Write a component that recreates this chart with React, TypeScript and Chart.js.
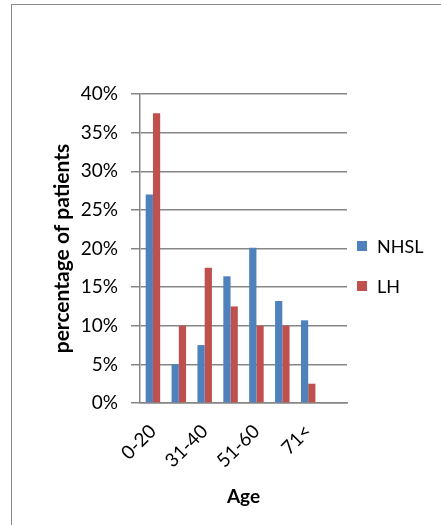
import React, { useEffect, useRef } from 'react';
import { Chart, registerables } from 'chart.js';

Chart.register(...registerables);

const categories = ['0-20', '21-30', '31-40', '41-50', '51-60', '61-70', '71<', ''];
const nhslValues = [27, 5, 7.5, 16.4, 20.1, 13.2, 10.7, null];
const lhValues = [37.5, 10, 17.5, 12.5, 10, 10, 2.5, null];
const seriesNames = ['NHSL', 'LH'];
const seriesColors = ['#4F81BD', '#C0504D'];
const yMax = 40;
const yStep = 5;
const yTitle = 'percentage of patients';
const xTitle = 'Age';

const FONT = 'Lato, "Open Sans", sans-serif';
const GRID = '#868686';

export default function App() {
  const canvasRef = useRef<HTMLCanvasElement | null>(null);

  useEffect(() => {
    const canvas = canvasRef.current;
    if (!canvas) return;
    const chart = new Chart(canvas, {
      type: 'bar',
      data: {
        labels: categories,
        datasets: [
          {
            label: seriesNames[0],
            data: nhslValues,
            backgroundColor: seriesColors[0],
            categoryPercentage: 0.56,
            barPercentage: 1,
          },
          {
            label: seriesNames[1],
            data: lhValues,
            backgroundColor: seriesColors[1],
            categoryPercentage: 0.56,
            barPercentage: 1,
          },
        ],
      },
      options: {
        responsive: false,
        animation: false,
        layout: { padding: { left: 0, right: 94, top: 94, bottom: 0 } },
        plugins: {
          legend: { display: false },
          tooltip: { enabled: false },
        },
        scales: {
          x: {
            grid: { display: false, drawTicks: true, tickLength: 8 },
            border: { display: true, color: GRID, width: 1.5 },
            ticks: {
              autoSkip: false,
              maxRotation: 45,
              minRotation: 45,
              padding: 9,
              color: '#000',
              font: { family: FONT, size: 19 },
              callback: (_v: any, i: number) => (i % 2 === 0 ? categories[i] : ''),
            },
            title: {
              display: true,
              text: xTitle,
              color: '#000',
              font: { family: FONT, size: 19, weight: 'bold' },
              padding: { top: 0, bottom: 17 },
            },
            afterFit: (s: any) => {
              s.height = 122;
            },
          },
          y: {
            min: 0,
            max: yMax,
            grid: { color: GRID, lineWidth: 1.5, tickLength: 9 },
            border: { display: true, color: GRID, width: 1.5 },
            ticks: {
              stepSize: yStep,
              padding: 13,
              color: '#000',
              font: { family: FONT, size: 19 },
              callback: (v: any) => `${v}%`,
            },
            title: {
              display: true,
              text: yTitle,
              color: '#000',
              font: { family: FONT, size: 21, weight: 'bold' },
              padding: { top: 50, bottom: 0 },
            },
            afterFit: (s: any) => {
              s.width = 140;
            },
          },
        },
      },
    });
    return () => chart.destroy();
  }, []);

  const legendTops = [246, 286];

  return (
    <div
      style={{
        position: 'absolute',
        left: 0,
        top: 0,
        width: 441,
        height: 525,
        overflow: 'hidden',
        background: '#fff',
      }}
    >
      <div
        style={{
          position: 'absolute',
          left: 11,
          top: 4,
          width: 460,
          height: 560,
          border: '1.5px solid #8a8a8a',
          boxSizing: 'border-box',
        }}
      />
      <canvas
        ref={canvasRef}
        width={441}
        height={525}
        style={{ position: 'absolute', left: 0, top: 0, width: 441, height: 525 }}
      />
      {seriesNames.map((name, i) => (
        <div
          key={name}
          style={{
            position: 'absolute',
            left: 357,
            top: legendTops[i] - 12,
            height: 24,
            display: 'flex',
            alignItems: 'center',
            fontFamily: FONT,
            fontSize: 18,
            color: '#000',
            whiteSpace: 'nowrap',
          }}
        >
          <span
            style={{
              display: 'inline-block',
              width: 10,
              height: 10,
              background: seriesColors[i],
              marginRight: 10,
            }}
          />
          <span>{name}</span>
        </div>
      ))}
    </div>
  );
}
